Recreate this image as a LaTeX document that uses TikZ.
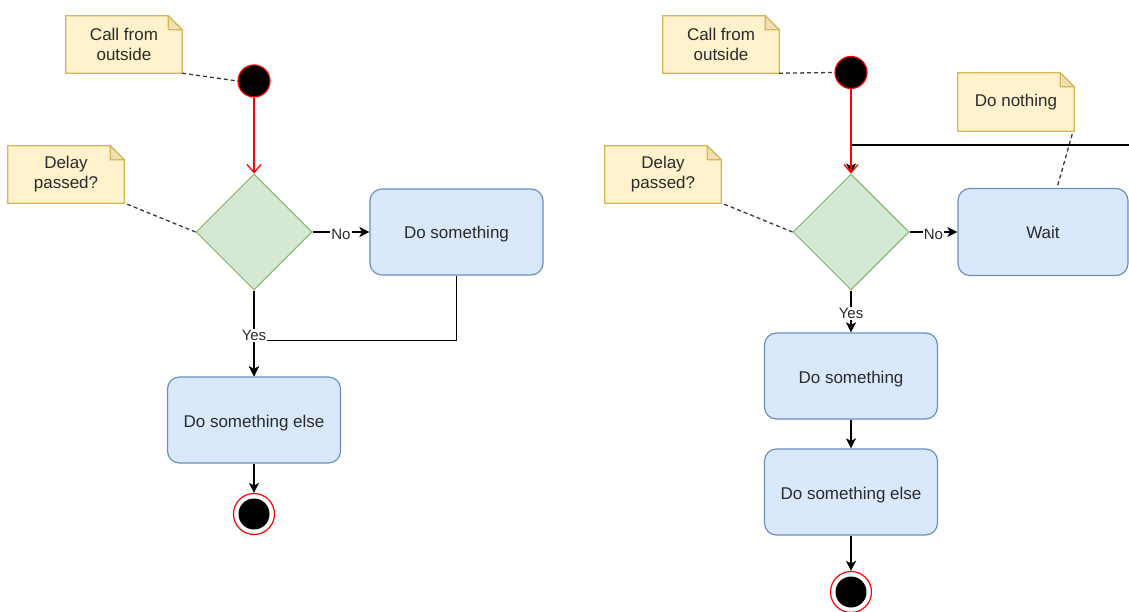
\documentclass[tikz,border=0pt]{standalone}
\usepackage{fontspec}
\setmainfont{Liberation Sans}
\usetikzlibrary{shapes.geometric,arrows.meta,calc,backgrounds}

\definecolor{notefill}{HTML}{FFF2CC}
\definecolor{noteline}{HTML}{D6B656}
\definecolor{notefold}{HTML}{EEDFB4}
\definecolor{decfill}{HTML}{D5E8D4}
\definecolor{decline}{HTML}{82B366}
\definecolor{actfill}{HTML}{DAE8FC}
\definecolor{actline}{HTML}{6C8EBF}
\definecolor{txt}{HTML}{2A2A2A}
\definecolor{startred}{HTML}{FF0000}

\tikzset{
  every node/.style={text=txt, font=\fontsize{17}{20}\selectfont},
  notebox/.style={minimum width=116pt, minimum height=57pt, inner sep=0pt, align=center, yshift=-1pt},
  decision/.style={diamond, aspect=1, minimum width=116pt, minimum height=116pt,
    inner sep=0pt, fill=decfill, draw=decline, line width=1pt},
  action/.style={rectangle, rounded corners=12pt, minimum width=173pt, minimum height=86pt,
    fill=actfill, draw=actline, line width=1.2pt, text height=16pt, text depth=2pt},
  initial/.style={circle, fill=black, draw=startred, line width=1.2pt, minimum size=32pt, inner sep=0pt},
  final/.style={circle, fill=white, draw=startred, line width=1.2pt, minimum size=41pt, inner sep=0pt},
  finaldot/.style={circle, fill=black, minimum size=31pt, inner sep=0pt},
  flow/.style={draw=black, line width=1.3pt, -{Stealth[length=10pt,width=10pt,inset=2.5pt]}},
  redflow/.style={draw=startred, line width=1.3pt, -{Straight Barb[length=8pt,width=14pt]}},
  anchorline/.style={draw=black!78, line width=1.3pt, dash pattern=on 4pt off 3pt},
  guard/.style={fill=white, inner sep=1pt, yshift=-2pt, font=\fontsize{15}{17}\selectfont},
  notefold/.style={fill=notefold, draw=noteline, line width=1.2pt},
  noteshape/.style={fill=notefill, draw=noteline, line width=1.2pt},
}

% folded-corner note outline behind a named note node
\newcommand\drawnote[1]{%
  \filldraw[noteshape] (#1.south west) -- (#1.north west) -- ([xshift=-14pt]#1.north east)
    -- ([yshift=-14pt]#1.north east) -- (#1.south east) -- cycle;
  \filldraw[notefold] ([xshift=-14pt]#1.north east) -- ([xshift=-14pt,yshift=-14pt]#1.north east)
    -- ([yshift=-14pt]#1.north east) -- cycle;
}

\begin{document}
\begin{tikzpicture}[x=1pt, y=-1pt]
\useasboundingbox (0,0) rectangle (1129,612);

% ---------- left activity ----------
\node[notebox] (n1) at (124,43.5) {Call from\\outside};
\node[initial] (s1) at (254,81) {};
\node[notebox] (n2) at (66,173.5) {Delay\\passed?};
\node[decision] (d1) at (254,232) {};
\node[action] (b1) at (456.5,232) {Do something};
\node[action] (e1) at (254,420) {Do something else};
\node[final] (f1) at (254,514) {};
\node[finaldot] (f1dot) at (f1) {};

% ---------- right activity ----------
\node[notebox] (n3) at (721,43.5) {Call from\\outside};
\node[initial] (s2) at (851,72.5) {};
\node[notebox, minimum height=58pt] (n4) at (1016,101) {Do nothing};
\node[notebox] (n5) at (663,173.5) {Delay\\passed?};
\node[decision] (d2) at (851,232) {};
\node[action, minimum width=170pt, minimum height=87pt] (w2) at (1043,232) {Wait};
\node[action] (b2) at (851,376) {Do something};
\node[action] (e2) at (851,492) {Do something else};
\node[final] (f2) at (851,592) {};
\node[finaldot] (f2dot) at (f2) {};
\coordinate (loopin) at (1135,145);

\begin{scope}[on background layer]
  \drawnote{n1}
  \drawnote{n2}
  \drawnote{n3}
  \drawnote{n4}
  \drawnote{n5}
\end{scope}

% note anchors
\draw[anchorline] (n1.south east) -- (s1.west);
\draw[anchorline] ([shift={(3pt,-1pt)}]n2.south east) -- (d1.west);
\draw[anchorline] (n3.south east) -- (s2.west);
\draw[anchorline] ([shift={(-2pt,-3pt)}]n4.south east) -- ([xshift=14pt]w2.north);
\draw[anchorline] ([shift={(3pt,-1pt)}]n5.south east) -- (d2.west);

% left flows
\draw[redflow] (s1) -- (d1);
\draw[flow] (b1.south) -- ++(0,65) -| (e1.north);
\draw[flow] (d1.east) -- node[guard] {No} (b1.west);
\draw[flow] (d1.south) -- node[guard] {Yes} (e1.north);
\draw[flow] (e1.south) -- (f1.north);

% right flows
\draw[flow] (loopin) -| (d2.north);
\draw[redflow] (s2) -- (d2);
\draw[flow] (d2.east) -- node[guard] {No} (w2.west);
\draw[flow] (d2.south) -- node[guard] {Yes} (b2.north);
\draw[flow] (b2.south) -- (e2.north);
\draw[flow] (e2.south) -- (f2.north);
\end{tikzpicture}
\end{document}
